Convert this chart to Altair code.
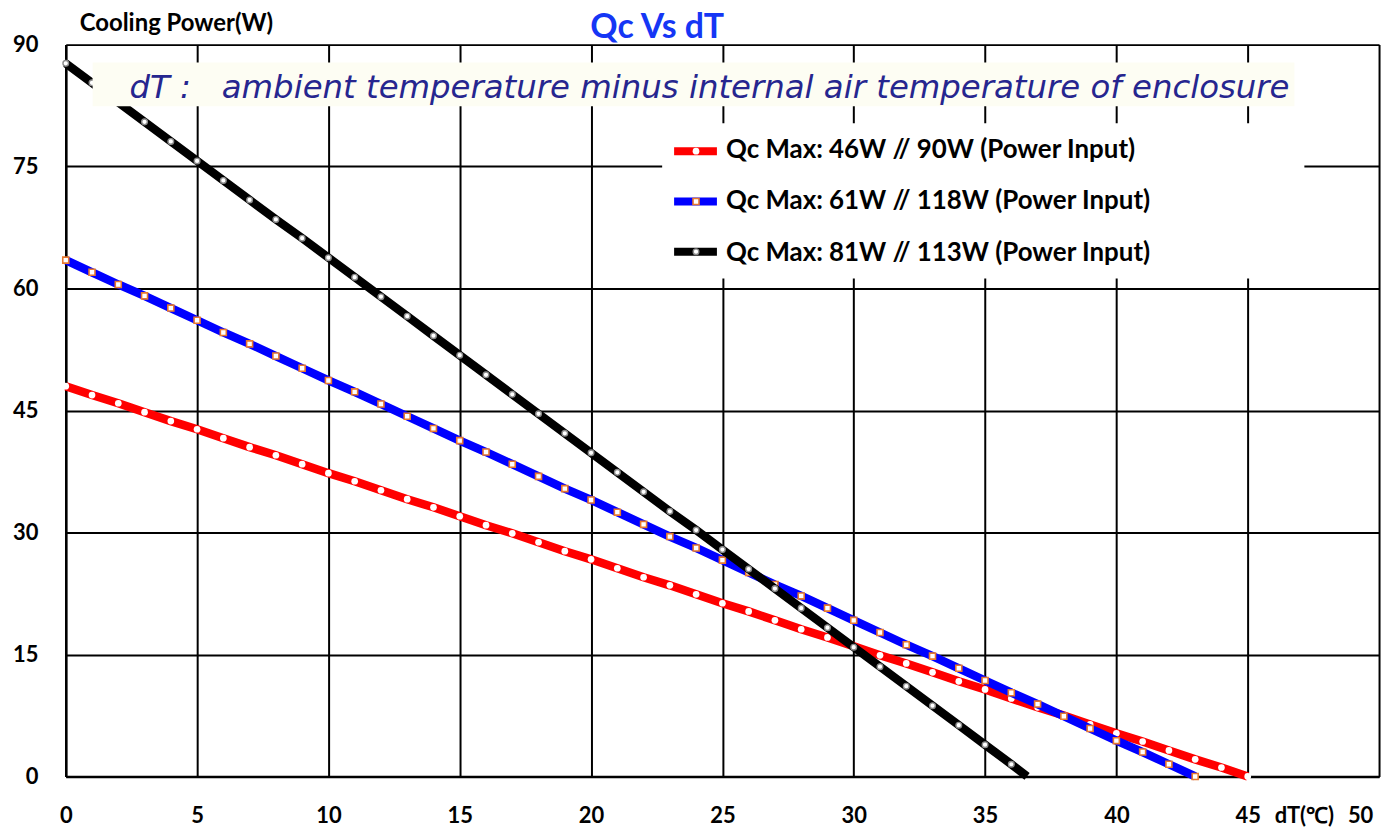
import altair as alt
import pandas as pd

# ---- data ----
red_x = list(range(0, 46))
red_y = [48.0, 46.9, 45.9, 44.8, 43.7, 42.7, 41.6, 40.5, 39.5, 38.4,
         37.3, 36.3, 35.2, 34.1, 33.1, 32.0, 30.9, 29.9, 28.8, 27.7,
         26.7, 25.6, 24.5, 23.5, 22.4, 21.3, 20.3, 19.2, 18.1, 17.1,
         16.0, 14.9, 13.9, 12.8, 11.7, 10.7, 9.6, 8.5, 7.5, 6.4,
         5.3, 4.3, 3.2, 2.1, 1.1, 0.0]

blue_x = list(range(0, 44))
blue_y = [63.5, 62.0, 60.5, 59.1, 57.6, 56.1, 54.6, 53.2, 51.7, 50.2,
          48.7, 47.3, 45.8, 44.3, 42.8, 41.3, 39.9, 38.4, 36.9, 35.4,
          34.0, 32.5, 31.0, 29.5, 28.1, 26.6, 25.1, 23.6, 22.2, 20.7,
          19.2, 17.7, 16.2, 14.8, 13.3, 11.8, 10.3, 8.9, 7.4, 5.9,
          4.4, 3.0, 1.5, 0.0]

black_x = list(range(0, 37)) + [36.6]
black_y = [87.7, 85.3, 82.9, 80.5, 78.1, 75.7, 73.3, 70.9, 68.5, 66.2,
           63.8, 61.4, 59.0, 56.6, 54.2, 51.8, 49.4, 47.0, 44.6, 42.2,
           39.8, 37.4, 35.0, 32.6, 30.3, 27.9, 25.5, 23.1, 20.7, 18.3,
           15.9, 13.5, 11.1, 8.7, 6.3, 3.9, 1.5, 0.0]

series_names = [
    "Qc Max: 46W // 90W (Power Input)",
    "Qc Max: 61W // 118W (Power Input)",
    "Qc Max: 81W // 113W (Power Input)",
]
series_colors = ["#ff0000", "#0000ff", "#000000"]

x_ticks = list(range(0, 51, 5))
y_ticks = list(range(0, 91, 15))

note = "dT\u00a0:\u00a0\u00a0\u00a0ambient temperature minus internal air temperature of enclosure"

rows = []
for i, (xs, ys) in enumerate([(red_x, red_y), (blue_x, blue_y), (black_x, black_y)]):
    for x, y in zip(xs, ys):
        rows.append({"dT": x, "Qc": y, "series": series_names[i], "order": i})
df = pd.DataFrame(rows)

FONT = "Lato"

xscale = alt.Scale(domain=[0, 50], nice=False, zero=False)
yscale = alt.Scale(domain=[0, 90], nice=False)

xaxis = alt.Axis(values=x_ticks, grid=True, gridColor="#000", gridWidth=2,
                 ticks=False, domain=True, domainColor="#000", domainWidth=2.5,
                 labelFont=FONT, labelFontWeight="bold", labelFontSize=22,
                 labelColor="#000", labelPadding=29, labelFlush=False,
                 labelOffset=alt.expr("datum.value == 50 ? -19 : 0"),
                 title=None)
yaxis = alt.Axis(values=y_ticks, grid=True, gridColor="#000", gridWidth=2,
                 ticks=False, domain=True, domainColor="#000", domainWidth=2.5,
                 labelFont=FONT, labelFontWeight="bold", labelFontSize=22,
                 labelColor="#000", labelPadding=28, title=None)

base = alt.Chart(df)

lines = base.mark_line(strokeWidth=8.5, strokeCap="butt").encode(
    x=alt.X("dT:Q", scale=xscale, axis=xaxis),
    y=alt.Y("Qc:Q", scale=yscale, axis=yaxis),
    color=alt.Color("series:N", sort=series_names,
                    scale=alt.Scale(domain=series_names, range=series_colors),
                    legend=alt.Legend(orient="none", legendX=610, legendY=80,
                                      title=None, symbolType="stroke",
                                      symbolSize=1849, symbolStrokeWidth=8,
                                      symbolOpacity=0,
                                      labelFont=FONT, labelFontWeight="bold",
                                      labelFontSize=26, labelColor="#000",
                                      labelOffset=2, rowPadding=13,
                                      labelLimit=600, padding=0)),
    detail="series:N",
    order=alt.Order("dT:Q"),
)

# draw order: red bottom, blue, black top
red_line = lines.transform_filter(alt.datum.order == 0)
blue_line = lines.transform_filter(alt.datum.order == 1)
black_line = lines.transform_filter(alt.datum.order == 2)

pt_x = alt.X("dT:Q", scale=xscale)
pt_y = alt.Y("Qc:Q", scale=yscale)

red_style = dict(shape="circle", filled=True, fill="white", size=45, strokeWidth=0, opacity=1)
blue_style = dict(shape="square", filled=False, fill="white", fillOpacity=1, stroke="#e8782e",
                  size=36, strokeWidth=1.6, opacity=1)
black_style = dict(shape="circle", filled=False, fill="white", fillOpacity=1, stroke="#8a8a8a",
                   size=32, strokeWidth=1.4, opacity=1)

red_pts = base.transform_filter((alt.datum.order == 0) & (alt.datum.dT % 1 == 0)).mark_point(
    **red_style).encode(x=pt_x, y=pt_y)
blue_pts = base.transform_filter((alt.datum.order == 1) & (alt.datum.dT % 1 == 0)).mark_point(
    **blue_style).encode(x=pt_x, y=pt_y)
black_pts = base.transform_filter((alt.datum.order == 2) & (alt.datum.dT % 1 == 0)).mark_point(
    **black_style).encode(x=pt_x, y=pt_y)

one = pd.DataFrame({"a": [0]})
note_box = alt.Chart(one).mark_rect(fill="#fdfdf3", stroke=None).encode(
    x=alt.value(27), x2=alt.value(1234), y=alt.value(18), y2=alt.value(62))
note_text = alt.Chart(pd.DataFrame({"t": [note]})).mark_text(
    align="left", baseline="middle", font="DejaVu Sans", fontStyle="italic",
    fontSize=32.5, color="#26268f").encode(x=alt.value(64), y=alt.value(44), text="t:N")

legend_box = alt.Chart(one).mark_rect(fill="white", stroke=None).encode(
    x=alt.value(599), x2=alt.value(1244), y=alt.value(79), y2=alt.value(235))

# legend swatches: thick line with a marker in the middle
leg_rows = [107, 157.5, 208]
swatches = []
for col, yy, sty in zip(series_colors, leg_rows, [red_style, blue_style, black_style]):
    swatches.append(alt.Chart(one).mark_rule(color=col, strokeWidth=8, strokeCap="butt").encode(
        x=alt.value(611), x2=alt.value(654), y=alt.value(yy)))
    swatches.append(alt.Chart(one).mark_point(**sty).encode(x=alt.value(633), y=alt.value(yy)))

title_text = alt.Chart(pd.DataFrame({"t": ["Qc Vs dT"]})).mark_text(
    align="center", baseline="middle", font=FONT, fontWeight="bold",
    fontSize=34, color="#1536f5").encode(x=alt.value(594), y=alt.value(-17), text="t:N")
ytitle = alt.Chart(pd.DataFrame({"t": ["Cooling Power(W)"]})).mark_text(
    align="left", baseline="middle", font=FONT, fontWeight="bold",
    fontSize=24, color="#000").encode(x=alt.value(14), y=alt.value(-21), text="t:N")
xtitle = alt.Chart(pd.DataFrame({"t": ["dT(℃)"]})).mark_text(
    align="center", baseline="middle", font=FONT, fontWeight="bold",
    fontSize=22, color="#000").encode(x=alt.value(1244), y=alt.value(775), text="t:N")

chart = alt.layer(
    red_line, red_pts, blue_line, blue_pts, black_line, black_pts,
    note_box, legend_box, note_text, *swatches,
    title_text, ytitle, xtitle
).resolve_scale(x="shared", y="shared").properties(
    width=1319, height=735,
    autosize=alt.AutoSizeParams(type="none"),
    padding={"left": 58, "top": 35, "right": 10, "bottom": 52},
).configure_view(stroke="#222", strokeWidth=2.5).configure(background="white")

chart.save("out.html", embed_options={"renderer": "svg", "actions": False})
